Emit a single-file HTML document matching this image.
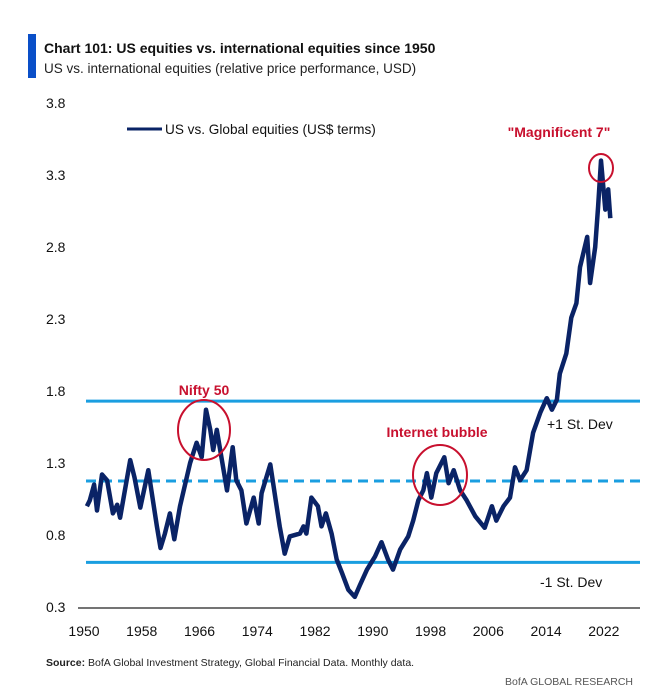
<!DOCTYPE html>
<html><head><meta charset="utf-8"><style>
body{margin:0;background:#fff;font-family:"Liberation Sans",sans-serif}
svg text{font-family:"Liberation Sans",sans-serif}
</style></head><body>
<svg width="670" height="691" viewBox="0 0 670 691">
<rect x="28" y="34" width="8" height="44" fill="#0a4fc8"/>
<text x="44" y="53" font-size="14" font-weight="bold" fill="#111">Chart 101: US equities vs. international equities since 1950</text>
<text x="44" y="73" font-size="13.5" fill="#222">US vs. international equities (relative price performance, USD)</text>
<g id="yaxis"></g>
<g id="xaxis"></g>
<line x1="78" y1="608" x2="640" y2="608" stroke="#222" stroke-width="1.2"/>
<g id="bands"></g>
<path id="series" fill="none" stroke="#0a2366" stroke-width="4.5" stroke-linejoin="round"/>
<line x1="127" y1="129" x2="162" y2="129" stroke="#0a2366" stroke-width="3"/>
<text x="165" y="134" font-size="13.6" fill="#111">US vs. Global equities (US$ terms)</text>
<text x="559" y="137" font-size="14" font-weight="bold" fill="#c8102e" text-anchor="middle">"Magnificent 7"</text>
<ellipse cx="601" cy="168" rx="12" ry="14" fill="none" stroke="#c8102e" stroke-width="2"/>
<text x="204" y="395" font-size="14" font-weight="bold" fill="#c8102e" text-anchor="middle">Nifty 50</text>
<ellipse cx="204" cy="430" rx="26" ry="30" fill="none" stroke="#c8102e" stroke-width="2"/>
<text x="437" y="437" font-size="14" font-weight="bold" fill="#c8102e" text-anchor="middle">Internet bubble</text>
<ellipse cx="440" cy="475" rx="27" ry="30" fill="none" stroke="#c8102e" stroke-width="2"/>
<text x="547" y="429" font-size="14" fill="#111">+1 St. Dev</text>
<text x="540" y="587" font-size="14" fill="#111">-1 St. Dev</text>
<text x="46" y="666" font-size="10.5" fill="#222"><tspan font-weight="bold">Source:</tspan> BofA Global Investment Strategy, Global Financial Data. Monthly data.</text>
<text x="633" y="685" font-size="10.5" fill="#555" text-anchor="end">BofA GLOBAL RESEARCH</text>
</svg>
<script>
const yTicks=[0.3,0.8,1.3,1.8,2.3,2.8,3.3,3.8];
const xTicks=[1950,1958,1966,1974,1982,1990,1998,2006,2014,2022];
const years=[1950.4,1950.8,1951.4,1951.8,1952.5,1953.2,1954.0,1954.6,1955.0,1956.4,1957.0,1957.8,1958.9,1960.1,1960.6,1961.2,1961.9,1962.5,1963.3,1964.7,1965.6,1966.3,1966.9,1967.5,1967.9,1968.4,1969.1,1969.8,1970.6,1971.1,1971.8,1972.5,1973.5,1974.2,1974.6,1975.8,1976.5,1977.1,1977.8,1978.5,1979.9,1980.4,1980.8,1981.5,1982.4,1982.9,1983.5,1984.3,1985.0,1985.7,1986.6,1987.5,1988.2,1989.2,1990.3,1991.2,1992.1,1992.8,1993.8,1994.9,1995.6,1996.3,1997.0,1997.5,1998.1,1998.8,1999.9,2000.5,2001.2,2002.1,2003.0,2004.2,2005.5,2006.5,2007.1,2008.1,2009.0,2009.7,2010.4,2011.3,2012.2,2013.2,2014.1,2014.8,2015.5,2015.9,2016.8,2017.5,2018.2,2018.7,2019.7,2020.1,2020.8,2021.2,2021.6,2022.2,2022.6,2022.9];
const values=[1.0,1.04,1.15,0.97,1.22,1.18,0.95,1.01,0.92,1.32,1.2,0.99,1.25,0.86,0.71,0.81,0.95,0.77,1.0,1.3,1.44,1.34,1.67,1.53,1.39,1.53,1.32,1.11,1.41,1.18,1.11,0.88,1.06,0.88,1.09,1.29,1.06,0.86,0.67,0.79,0.81,0.86,0.81,1.06,1.0,0.86,0.95,0.81,0.63,0.54,0.42,0.37,0.45,0.56,0.65,0.75,0.63,0.56,0.7,0.79,0.9,1.04,1.11,1.23,1.06,1.23,1.34,1.16,1.25,1.11,1.04,0.93,0.85,1.0,0.9,1.0,1.06,1.27,1.18,1.25,1.51,1.65,1.75,1.67,1.74,1.92,2.06,2.31,2.41,2.66,2.87,2.55,2.8,3.08,3.40,3.06,3.2,3.0];
const bandVals=[1.73,0.61];
const meanVal=1.175;
const ns="http://www.w3.org/2000/svg";
const X=y=>84+(y-1950)*7.22;
const Y=v=>607-(v-0.3)*144;
const ya=document.getElementById('yaxis');
yTicks.forEach(t=>{const e=document.createElementNS(ns,'text');
e.setAttribute('x',46);e.setAttribute('y',Y(t)+5);e.setAttribute('font-size','14');e.setAttribute('fill','#111');


e.textContent=t.toFixed(1);ya.appendChild(e);});
const xa=document.getElementById('xaxis');
xTicks.forEach(t=>{const e=document.createElementNS(ns,'text');
e.setAttribute('x',X(t));e.setAttribute('y',636);e.setAttribute('font-size','14');e.setAttribute('fill','#111');e.setAttribute('text-anchor','middle');


e.textContent=t;xa.appendChild(e);});
const b=document.getElementById('bands');
bandVals.forEach(v=>{const l=document.createElementNS(ns,'line');
l.setAttribute('x1',86);l.setAttribute('x2',640);l.setAttribute('y1',Y(v));l.setAttribute('y2',Y(v));l.setAttribute('stroke','#1a9ee0');l.setAttribute('stroke-width','3');


b.appendChild(l);});
const m=document.createElementNS(ns,'line');
m.setAttribute('x1',86);m.setAttribute('x2',640);m.setAttribute('y1',Y(meanVal));m.setAttribute('y2',Y(meanVal));m.setAttribute('stroke','#1a9ee0');m.setAttribute('stroke-width','3');m.setAttribute('stroke-dasharray','10,6');


b.appendChild(m);
document.getElementById('series').setAttribute('d',years.map((y,i)=>(i?'L':'M')+X(y).toFixed(1)+' '+Y(values[i]).toFixed(1)).join(' '));
</script>
</body></html>
